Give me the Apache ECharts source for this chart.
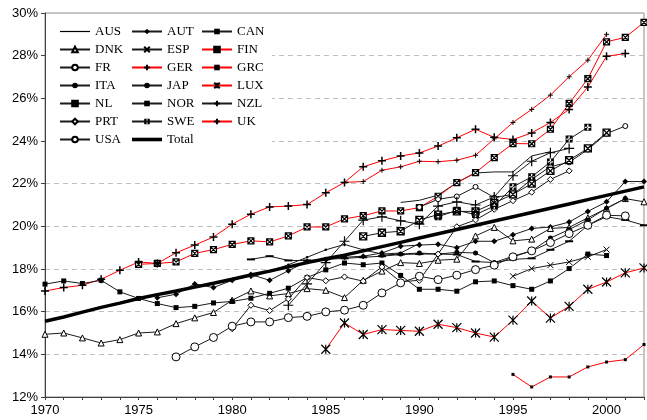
<!DOCTYPE html>
<html>
<head>
<meta charset="utf-8">
<script src="https://cdn.jsdelivr.net/npm/echarts@6/dist/echarts.min.js"></script>
<style>
  html, body { margin: 0; padding: 0; background: #fff; }
  #chart { width: 647px; height: 420px; }
</style>
</head>
<body>
<div id="chart"></div>
<script>
const n = null;
const years = [1970,1971,1972,1973,1974,1975,1976,1977,1978,1979,1980,1981,1982,1983,1984,1985,1986,1987,1988,1989,1990,1991,1992,1993,1994,1995,1996,1997,1998,1999,2000,2001,2002];
const yTicks = [12,14,16,18,20,22,24,26,28,30];

// one value per year, 1970..2002 (null = no data)
const AUS = [n,n,n,n,n,n,n,n,n,n, n,n,n,n,n,n,n,n,n,21.12, 21.22,21.46,22.05,22.5,22.55,22.55,23.3,23.5,n,n, n,n,n];
const AUT = [n,n,n,n,n,n,16.65,16.82,17.3,17.13, 17.47,17.74,17.47,17.92,18.35,18.45,18.55,18.6,18.75,19.07, 19.12,19.16,19.0,19.3,19.3,19.6,19.9,19.97,20.2,20.7, 21.15,22.1,22.1];
const CAN = [n,n,n,n,n,n,n,n,n,n, n,18.45,18.6,18.4,18.4,18.45,18.5,18.55,18.6,18.68, 18.7,18.7,18.68,18.35,18.3,18.45,18.5,18.9,19.3,20.05, 20.45,20.3,20.05];
const DNK = [14.94,15.0,14.77,14.53,14.69,15.0,15.05,15.44,15.71,15.96, 16.54,16.97,16.74,16.85,17.08,17.0,16.66,17.47,17.9,18.3, 18.26,18.41,18.46,19.55,19.95,19.32,19.4,19.9,19.95,20.4, 20.84,21.3,21.15];
const ESP = [n,n,n,n,n,n,n,n,n,n, n,n,n,n,n,n,n,n,n,n, n,n,n,n,n,17.66,18.02,18.18,18.33,18.57, 18.91,n,n];
const FIN = [n,n,n,n,n,18.22,18.26,18.33,18.73,18.91, 19.15,19.32,19.27,19.55,19.97,19.97,20.35,20.5,20.72,20.72, 20.88,21.41,22.05,22.52,23.22,23.88,23.87,24.55,25.76,26.92, 28.65,28.86,29.56];
const FR  = [n,n,n,n,n,n,n,n,n,n, n,n,n,n,n,n,n,n,n,n, 20.9,21.27,21.4,21.85,21.35,21.5,22.2,22.8,23.0,23.6, 24.35,24.7,n];
const GER = [16.97,17.13,17.24,17.52,17.94,18.33,18.26,18.76,19.12,19.5, 20.1,20.57,20.91,20.95,21.02,21.57,22.06,22.79,23.07,23.3, 23.44,23.76,24.15,24.55,24.17,24.07,24.38,24.87,25.48,26.53, 27.97,28.1,n];
const GRC = [n,n,n,n,n,n,n,n,n,n, n,n,n,n,n,n,n,n,n,n, n,n,n,n,n,13.06,12.47,12.94,12.94,13.41, 13.64,13.75,14.46];
const ITA = [n,n,n,n,n,n,n,n,n,n, n,n,n,n,n,n,n,n,18.65,18.7, 18.75,18.7,18.78,18.75,18.3,18.6,18.85,19.45,19.85,20.3, 20.85,21.3,n];
const JAP = [n,n,n,n,n,n,n,n,n,n, n,17.6,17.9,18.2,18.55,18.9,19.15,18.9,18.7,18.75, 19.2,n,n,n,n,n,n,n,n,n, n,n,n];
const LUX = [n,n,n,n,n,n,n,n,n,n, n,n,n,n,n,14.24,15.47,14.93,15.16,15.12, 15.08,15.41,15.25,15.0,14.81,15.6,16.5,15.7,16.25,17.05, 17.39,17.82,18.05];
const NL  = [n,n,n,n,n,n,n,n,n,n, n,n,n,n,n,n,n,19.53,19.7,19.77, 20.3,20.55,20.7,20.7,21.1,21.5,22.0,22.6,23.1,23.65, 24.39,n,n];
const NOR = [17.29,17.44,17.32,17.47,16.93,16.62,16.38,16.19,16.25,16.41, 16.48,16.63,16.86,17.1,17.6,17.96,18.28,18.2,18.28,17.7, 17.05,17.05,16.96,17.4,17.44,17.22,17.05,17.44,18.02,18.7, 18.63,n,n];
const NZL = [n,n,n,n,n,n,n,n,n,n, n,n,n,16.3,17.3,18.3,19.3,20.29,20.45,20.26, 20.1,20.95,21.15,21.0,21.38,22.37,23.05,23.45,23.65,n, n,n,n];
const PRT = [n,n,n,n,n,n,n,n,n,n, 15.2,16.3,16.05,16.6,17.6,17.45,17.63,17.43,18.1,17.4, 17.47,18.7,19.98,20.3,20.8,21.2,21.6,22.2,22.6,n, n,n,n];
const SWE = [n,n,n,n,n,n,n,n,n,n, n,n,n,n,n,n,n,n,n,n, n,20.45,20.75,20.55,20.95,21.85,22.32,23.02,24.09,24.64, n,n,n];
const UK  = [n,n,n,n,n,n,n,n,n,n, n,n,n,n,n,n,22.06,22.1,22.63,22.79, 23.05,23.03,23.1,23.33,24.1,24.87,25.48,26.15,27.01,27.79, 29.0,n,n];
const USA = [n,n,n,n,n,n,n,13.88,14.35,14.79, 15.32,15.52,15.52,15.72,15.78,15.99,16.07,16.3,16.88,17.35, 17.66,17.5,17.71,17.97,18.18,18.57,18.85,19.24,19.66,20.05, 20.52,20.49,n];
const Total = [15.55,15.75,15.98,16.2,16.4,16.62,16.8,16.97,17.15,17.33, 17.52,17.72,17.9,18.1,18.3,18.48,18.65,18.85,19.05,19.25, 19.45,19.65,19.85,20.05,20.25,20.45,20.65,20.85,21.05,21.25, 21.45,21.65,21.85];

// marker shapes
const PLUS = 'path://M5,0L5,10M0,5L10,5';
const CROSS = 'path://M0,0L10,10M10,0L0,10';
const STAR = 'path://M0,0L10,10M10,0L0,10M5,0L5,10';
const BOXX = 'path://M0,0L10,0L10,10L0,10Z M0,0L10,10M10,0L0,10';
// black square with a white plus cut out of it
const BOXPLUS = 'path://M0,0L10,0L10,10L0,10Z M4,1L4,4L1,4L1,6L4,6L4,9L6,9L6,6L9,6L9,4L6,4L6,1Z';
// legend swatches for the series without markers
const THIN_LINE = 'path://M0,0L0,0M30,7L30,7M0,2.9L30,2.9L30,4.1L0,4.1Z';
const THICK_LINE = 'path://M0,0L0,0M30,7L30,7M0,1.7L30,1.7L30,5.3L0,5.3Z';

function pairs(arr) {
  const out = [];
  arr.forEach((v, i) => { if (v !== null) out.push([years[i], v]); });
  return out;
}

function line(name, arr, o) {
  return {
    name: name,
    type: 'line',
    data: pairs(arr),
    symbol: o.symbol || 'none',
    symbolSize: o.size || 5,
    showSymbol: true,
    lineStyle: { color: o.line || '#1a1a1a', width: o.width || 1 },
    itemStyle: { color: o.fill || '#000', borderColor: '#000', borderWidth: o.bw || 0 },
    emphasis: { disabled: true },
    z: o.z || 2
  };
}

const RED = '#ff0000';
const series = [
  line('AUS', AUS, {}),
  line('AUT', AUT, { symbol: 'diamond', size: 6 }),
  line('CAN', CAN, { symbol: 'rect', size: [8, 2] }),
  line('DNK', DNK, { symbol: 'triangle', size: 6, fill: '#fff', bw: 1 }),
  line('ESP', ESP, { symbol: CROSS, size: 6, bw: 1 }),
  line('FIN', FIN, { symbol: BOXX, size: 6, fill: '#fff', bw: 1.2, line: RED }),
  line('FR', FR, { symbol: 'circle', size: 5, fill: '#fff', bw: 1 }),
  line('GER', GER, { symbol: PLUS, size: 8, bw: 1.5, line: RED }),
  line('GRC', GRC, { symbol: 'rect', size: 3, line: RED }),
  line('ITA', ITA, { symbol: 'circle', size: 5 }),
  line('JAP', JAP, { symbol: 'circle', size: 2.5 }),
  line('LUX', LUX, { symbol: STAR, size: 9, bw: 1.2, line: RED }),
  line('NL', NL, { symbol: BOXX, size: 7, fill: '#fff', bw: 1.3 }),
  line('NOR', NOR, { symbol: 'rect', size: 5 }),
  line('NZL', NZL, { symbol: PLUS, size: 10, bw: 1.2 }),
  line('PRT', PRT, { symbol: 'diamond', size: 6, fill: '#fff', bw: 1 }),
  line('SWE', SWE, { symbol: BOXPLUS, size: 7, fill: '#000' }),
  line('UK', UK, { symbol: PLUS, size: 5, bw: 1, line: RED }),
  line('USA', USA, { symbol: 'circle', size: 8, fill: '#fff', bw: 1 }),
  line('Total', Total, { width: 3.5, line: '#000', fill: '#000', z: 3 })
];

const legendBase = {
  orient: 'vertical',
  top: 25,
  padding: 0,
  itemWidth: 30,
  itemHeight: 7,
  itemGap: 5,
  textStyle: { fontFamily: 'Liberation Serif', fontSize: 13, color: '#000' },
  selectedMode: false
};

const chart = echarts.init(document.getElementById('chart'));
chart.setOption({
  animation: false,
  backgroundColor: '#fff',
  grid: { left: 45, right: 2, top: 13, bottom: 23, show: true, borderColor: '#8c8c8c', borderWidth: 1 },
  graphic: [{
    type: 'rect', left: 46, top: 16, shape: { width: 226, height: 138 },
    style: { fill: '#fff' }, z: 1
  }],
  legend: [
    Object.assign({}, legendBase, { left: 59, data: [{ name: 'AUS', icon: THIN_LINE }, 'DNK', 'FR', 'ITA', 'NL', 'PRT', 'USA'] }),
    Object.assign({}, legendBase, { left: 131, data: ['AUT', 'ESP', 'GER', 'JAP', 'NOR', 'SWE', { name: 'Total', icon: THICK_LINE }] }),
    Object.assign({}, legendBase, { left: 201, data: ['CAN', 'FIN', 'GRC', 'LUX', 'NZL', 'UK'] })
  ],
  xAxis: {
    type: 'value', min: 1970, max: 2002, interval: 1,
    axisLine: { lineStyle: { color: '#404040' } },
    axisTick: { show: true, length: 3, lineStyle: { color: '#404040' } },
    axisLabel: {
      color: '#000', fontFamily: 'Liberation Sans', fontSize: 13, margin: 7,
      formatter: v => (v % 5 === 0 ? String(v) : '')
    },
    splitLine: { show: false }
  },
  yAxis: {
    type: 'value', min: yTicks[0], max: yTicks[yTicks.length - 1], interval: 2,
    axisLine: { show: true, lineStyle: { color: '#404040' } },
    axisTick: { show: true, length: 4, lineStyle: { color: '#404040' } },
    axisLabel: { color: '#000', fontFamily: 'Liberation Sans', fontSize: 13, margin: 7, formatter: v => v + '%' },
    splitLine: { show: true, lineStyle: { color: '#c0c0c0', type: [5, 4] } }
  },
  series: series
});
</script>
</body>
</html>
